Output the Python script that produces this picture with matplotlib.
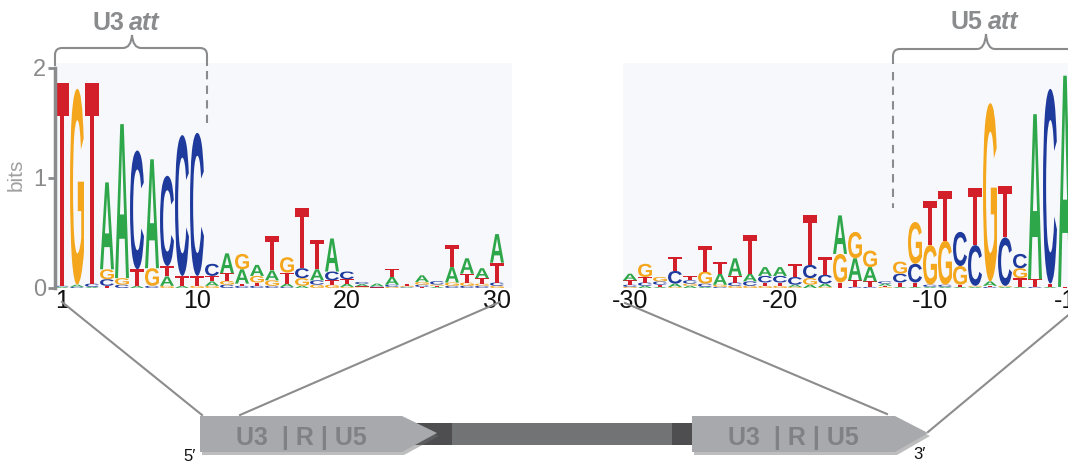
import numpy as np
import matplotlib
matplotlib.use('Agg')
import matplotlib.pyplot as plt
from matplotlib.textpath import TextPath
from matplotlib.patches import PathPatch, Polygon, Rectangle
from matplotlib.font_manager import FontProperties
from matplotlib.path import Path
import matplotlib.transforms as mtransforms

plt.rcParams['font.family'] = ['Liberation Sans', 'DejaVu Sans']

W, H = 1068, 463

bases = ['A', 'C', 'G', 'T']
base_colors = {'A': '#2ea64a', 'C': '#1e3a9c', 'G': '#f4a61c', 'T': '#d21f2a'}

# U3 end of the LTR, positions 1..30 (bits per base)
u3_pos = np.arange(1, 31)
u3_A = [0.01, 0.02, 0.01, 0.79, 1.40, 0.02, 0.99, 0.085, 0.02, 0.0,
        0.04, 0.18, 0.13, 0.10, 0.09, 0.03, 0.02, 0.10, 0.30, 0.03,
        0.02, 0.025, 0.07, 0.005, 0.06, 0.01, 0.14, 0.14, 0.09, 0.26]
u3_C = [0.01, 0.01, 0.03, 0.06, 0.03, 1.08, 0.02, 0.82, 1.28, 1.30,
        0.11, 0.03, 0.02, 0.02, 0.02, 0.01, 0.09, 0.04, 0.08, 0.07,
        0.02, 0.01, 0.02, 0.005, 0.02, 0.03, 0.02, 0.02, 0.02, 0.03]
u3_G = [0.0, 1.78, 0.0, 0.09, 0.06, 0.0, 0.16, 0.02, 0.0, 0.02,
        0.02, 0.035, 0.14, 0.06, 0.05, 0.14, 0.07, 0.03, 0.03, 0.01,
        0.005, 0.0, 0.01, 0.01, 0.025, 0.012, 0.03, 0.03, 0.02, 0.02]
u3_T = [1.84, 0.0, 1.82, 0.02, 0.0, 0.15, 0.0, 0.095, 0.09, 0.09,
        0.05, 0.07, 0.02, 0.03, 0.31, 0.10, 0.55, 0.27, 0.04, 0.04,
        0.01, 0.005, 0.075, 0.02, 0.01, 0.01, 0.20, 0.08, 0.05, 0.18]
u3_ticks = [1, 10, 20, 30]

# U5 end of the LTR, positions -30..-1
u5_pos = np.arange(-30, 0)
u5_A = [0.06, 0.02, 0.01, 0.03, 0.02, 0.01, 0.10, 0.16, 0.07, 0.08,
        0.08, 0.02, 0.03, 0.03, 0.35, 0.20, 0.13, 0.02, 0.01, 0.01,
        0.01, 0.01, 0.01, 0.01, 0.04, 0.01, 0.01, 1.50, 0.01, 1.92]
u5_C = [0.02, 0.03, 0.03, 0.115, 0.03, 0.03, 0.01, 0.03, 0.04, 0.06,
        0.06, 0.07, 0.12, 0.08, 0.0, 0.01, 0.01, 0.02, 0.08, 0.17,
        0.02, 0.02, 0.31, 0.37, 0.01, 0.44, 0.13, 0.01, 1.77, 0.0]
u5_G = [0.01, 0.12, 0.04, 0.01, 0.02, 0.11, 0.02, 0.02, 0.02, 0.02,
        0.02, 0.01, 0.06, 0.01, 0.26, 0.24, 0.15, 0.01, 0.11, 0.38,
        0.36, 0.40, 0.17, 0.01, 1.62, 0.01, 0.09, 0.0, 0.0, 0.0]
u5_T = [0.04, 0.05, 0.02, 0.125, 0.04, 0.23, 0.11, 0.06, 0.35, 0.03,
        0.03, 0.12, 0.45, 0.16, 0.05, 0.06, 0.05, 0.01, 0.04, 0.04,
        0.40, 0.45, 0.02, 0.52, 0.01, 0.47, 0.08, 0.07, 0.03, 0.01]
u5_ticks = [-30, -20, -10, -1]

logo_font = FontProperties(family='Liberation Sans', weight='bold')
grey = '#8a8b8d'


def draw_letter(ax, base, x, y0, h, w=0.93):
    tp = TextPath((0, 0), base, size=1, prop=logo_font)
    bb = tp.get_extents()
    tr = mtransforms.Affine2D().translate(-bb.x0, -bb.y0) \
        .scale(w / bb.width, h / bb.height).translate(x - w / 2, y0)
    ax.add_patch(PathPatch(tr.transform_path(tp), fc=base_colors[base],
                           ec='none', lw=0))


def draw_logo(ax, pos, heights):
    # smallest letter at the bottom, tallest on top
    for i, p in enumerate(pos):
        col = sorted((heights[b][i], b) for b in bases)
        y = 0
        for h, b in col:
            if h > 0:
                draw_letter(ax, b, p, y, h)
            y += h


def px_axes(x0, y0, x1, y1, **kw):
    return fig.add_axes([x0 / W, 1 - y1 / H, (x1 - x0) / W, (y1 - y0) / H], **kw)


fig = plt.figure(figsize=(W / 100, H / 100), dpi=100)

# ---- left logo (U3)
ax1 = px_axes(54.5, 62.5, 512, 288)
ax1.set_facecolor('#f7f8fb')
draw_logo(ax1, u3_pos, {'A': u3_A, 'C': u3_C, 'G': u3_G, 'T': u3_T})
ax1.set_xlim(0.5, 31.0)
ax1.set_ylim(0, 2.05)
for s in ['top', 'right', 'bottom']:
    ax1.spines[s].set_visible(False)
ax1.spines['left'].set_bounds(0, 2)
ax1.spines['left'].set_color(grey)
ax1.spines['left'].set_linewidth(2.5)
ax1.set_xticks(u3_ticks)
ax1.set_yticks([0, 1, 2])
ax1.tick_params(axis='x', length=0, labelsize=18, pad=1, labelcolor='#111111')
ax1.tick_params(axis='y', length=5, width=2, color=grey, labelcolor=grey,
                labelsize=17, pad=1)
ax1.set_ylabel('bits', fontsize=15, color='#a0a0a0', labelpad=5)

# ---- right logo (U5), runs off the right edge
ax2 = px_axes(622.5, 62.5, 1087.5, 288)
ax2.set_facecolor('#f7f8fb')
draw_logo(ax2, u5_pos, {'A': u5_A, 'C': u5_C, 'G': u5_G, 'T': u5_T})
ax2.set_xlim(-30.5, 0.5)
ax2.set_ylim(0, 2.05)
for s in ax2.spines.values():
    s.set_visible(False)
ax2.set_xticks(u5_ticks)
ax2.set_xticklabels(['-30', '-20', '-10', '-1'])
ax2.set_yticks([])
ax2.tick_params(axis='x', length=0, labelsize=18, pad=1, labelcolor='#111111')

# ---- overlay in pixel coordinates: braces, guide lines, LTR cartoon
ov = fig.add_axes([0, 0, 1, 1], zorder=10)
ov.set_xlim(0, W)
ov.set_ylim(H, 0)
ov.axis('off')
ov.patch.set_alpha(0)

M, L, C3 = Path.MOVETO, Path.LINETO, Path.CURVE3
brace_l = Path([(55, 66), (55, 55), (55, 48), (62, 48), (123, 48), (131, 48),
                (132, 35), (133, 48), (141, 48), (200, 48), (207, 48),
                (207, 55), (207, 66)],
               [M, L, C3, C3, L, C3, C3, C3, C3, L, C3, C3, L])
brace_r = Path([(893, 64), (893, 56), (893, 49), (900, 49), (977, 49),
                (985, 49), (986, 34), (987, 49), (995, 49), (1090, 49)],
               [M, L, C3, C3, L, C3, C3, C3, C3, L])
for bp in (brace_l, brace_r):
    ov.add_patch(PathPatch(bp, fc='none', ec=grey, lw=1.5))
ov.plot([207, 207], [71, 123], color=grey, lw=1.5, ls=(0, (4, 3)))
ov.plot([893, 893], [72, 208], color=grey, lw=1.5, ls=(0, (4, 3)))

title_kw = dict(fontsize=18, color=grey, fontweight='bold', va='baseline')
ov.text(124, 30, 'U3', ha='right', **title_kw)
ov.text(129, 30, 'att', ha='left', style='italic', **title_kw)
ov.text(982, 29, 'U5', ha='right', **title_kw)
ov.text(988, 29, 'att', ha='left', style='italic', **title_kw)

# guide lines from the logos down to the LTRs
for (xa, ya), (xb, yb) in [((62, 302), (202, 415)), ((500, 302), (240, 415)),
                           ((625, 303), (887, 414)), ((1090, 297), (928, 432))]:
    ov.plot([xa, xb], [ya, yb], color='#8c8c8c', lw=1.5, zorder=1)

# provirus body between the LTRs
ov.add_patch(Rectangle((415, 423), 37, 22, fc='#4e4e50', ec='none', zorder=2))
ov.add_patch(Rectangle((452, 423), 220, 22, fc='#727375', ec='none', zorder=2))
ov.add_patch(Rectangle((672, 423), 20, 22, fc='#4e4e50', ec='none', zorder=2))


def ltr_box(x0, x1, tip):
    pts = [(x0, 416), (x1, 416), (tip, 433), (x1, 452), (x0, 452)]
    shadow = [(x + 2, y + 3) for x, y in pts]
    ov.add_patch(Polygon(shadow, closed=True, fc='#6d6e70', ec='none',
                         alpha=0.45, zorder=3))
    ov.add_patch(Polygon(pts, closed=True, fc='#a7a9ac', ec='none', zorder=4))
    ov.text((x0 + x1) / 2, 445, 'U3  | R | U5', ha='center', va='baseline',
            fontsize=18, fontweight='bold', color='#7f8184', zorder=5)


ltr_box(200, 402, 437)
ltr_box(692, 895, 928)

ov.text(183, 461, '5\u2032', fontsize=12, color='#111111', va='baseline', ha='left')
ov.text(913, 459, '3\u2032', fontsize=12, color='#111111', va='baseline', ha='left')

fig.savefig('out.png', dpi=100)
